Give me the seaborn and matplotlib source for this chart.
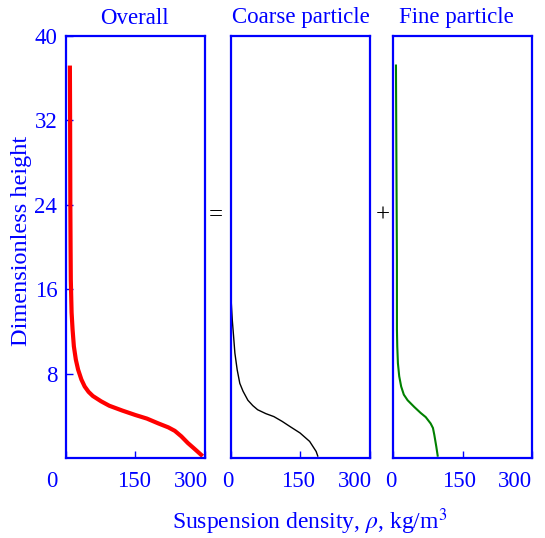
import matplotlib
matplotlib.use("Agg")
import matplotlib.pyplot as plt
import matplotlib.transforms as mtransforms
import seaborn as sns
import pandas as pd

sns.set_style("white")
plt.rcParams["font.family"] = ["Liberation Serif", "DejaVu Serif"]
plt.rcParams["mathtext.fontset"] = "stix"

BLUE = "#0000FF"

# ---- data ----
overall_rho = [9.0, 9.5, 10.0, 10.5, 11.0, 12.7, 14.8, 17.6, 21.8, 26.7, 33.8, 40.9, 49.3,
               58.5, 76.2, 93.8, 122.0, 150.0, 175.0, 199.7, 221.0, 235.0, 249.0, 263.0,
               277.0, 295.0]
overall_h   = [37.2, 32.0, 24.0, 20.0, 16.9, 13.8, 12.2, 10.6, 9.35, 8.4, 7.46, 6.8, 6.29,
               5.9, 5.4, 4.98, 4.52, 4.1, 3.76, 3.3, 2.93, 2.6, 2.08, 1.45, 0.91, 0.2]

coarse_rho = [0.6, 1.3, 3.4, 6.2, 9.0, 13.9, 19.6, 26.6, 37.0, 47.6, 58.0, 75.7, 93.0,
              110.7, 128.0, 149.3, 170.0, 184.0, 188.0]
coarse_h   = [16.6, 14.7, 13.1, 11.57, 9.97, 8.4, 7.1, 6.35, 5.5, 4.99, 4.6, 4.23, 3.95,
              3.5, 3.0, 2.4, 1.6, 0.65, 0.15]

fine_rho = [7.0, 8.0, 9.0, 9.1, 9.8, 11.2, 14.0, 18.2, 23.9, 32.0, 46.4, 60.0, 71.0,
            81.5, 86.5, 89.5, 93.6, 97.0]
fine_h   = [37.3, 28.0, 18.8, 12.2, 10.6, 9.0, 7.77, 6.8, 6.03, 5.5, 4.86, 4.3, 3.9,
            3.3, 2.87, 2.2, 1.13, 0.15]

panel_titles = ["Overall", "Coarse particle", "Fine particle"]
x_ticks = [0, 150, 300]
y_ticks = [8, 16, 24, 32, 40]

W, H = 545, 538
fig = plt.figure(figsize=(W / 100, H / 100), dpi=100)

def fx(px):
    return px / W

def fy(py):
    return 1 - py / H

panels = [
    (65.7, 205.0, overall_rho, overall_h, "#FF0000", 3.0, [-14, -1.5, -14]),
    (230.7, 370.0, coarse_rho, coarse_h, "black", 1.0, [-3, -2.5, -15]),
    (392.7, 532.3, fine_rho, fine_h, "#008000", 1.5, [-2, -3.6, -17.6]),
]
top_px, bot_px = 36.0, 458.3

for i, (l, r, xs, ys, col, lw, offs) in enumerate(panels):
    ax = fig.add_axes([fx(l), fy(bot_px), (r - l) / W, (bot_px - top_px) / H])
    df = pd.DataFrame({"rho": xs, "h": ys})
    sns.lineplot(data=df, x="rho", y="h", sort=False, estimator=None,
                 color=col, lw=lw, ax=ax, solid_capstyle="butt")
    ax.set_xlim(0, 295)
    ax.set_ylim(0, 40)
    ax.set_xlabel("")
    ax.set_ylabel("")
    for s in ax.spines.values():
        s.set_color(BLUE)
        s.set_linewidth(1.6)
        s.set_visible(True)
    ax.set_xticks(x_ticks)
    ax.set_xticklabels([str(t) for t in x_ticks])
    ax.tick_params(axis="x", direction="in", length=5, width=1, color=BLUE,
                   labelcolor=BLUE, labelsize=16.5, pad=9, bottom=True, top=False)
    for lab, dx in zip(ax.get_xticklabels(), offs):
        lab.set_transform(lab.get_transform() +
                          mtransforms.ScaledTranslation(dx / 100, 0, fig.dpi_scale_trans))
    if i == 0:
        ax.set_yticks(y_ticks)
        ax.set_yticklabels([str(t) for t in y_ticks])
        ax.tick_params(axis="y", direction="in", length=5, width=1, color=BLUE,
                       labelcolor=BLUE, labelsize=16.5, pad=6, left=True, right=False)
    else:
        ax.set_yticks([])
    ax.set_facecolor("white")

# panel titles
fig.text(fx(134), fy(18), panel_titles[0], color=BLUE, fontsize=16.5, ha="center", va="center")
fig.text(fx(301), fy(18), panel_titles[1], color=BLUE, fontsize=16.5, ha="center", va="center")
fig.text(fx(456), fy(18), panel_titles[2], color=BLUE, fontsize=16.5, ha="center", va="center")

# operators
fig.text(fx(216), fy(215), "=", color="black", fontsize=18, ha="center", va="center")
fig.text(fx(382.7), fy(216), "+", color="black", fontsize=18, ha="center", va="center")

# axis labels
fig.text(fx(22), fy(241), "Dimensionless height", color=BLUE, fontsize=17.5,
         rotation=90, ha="center", va="center")
fig.text(fx(310), fy(522), r"Suspension density, $\rho$, kg/m$^3$", color=BLUE,
         fontsize=17, ha="center", va="center")

fig.savefig("out.png", dpi=100, facecolor="white")
